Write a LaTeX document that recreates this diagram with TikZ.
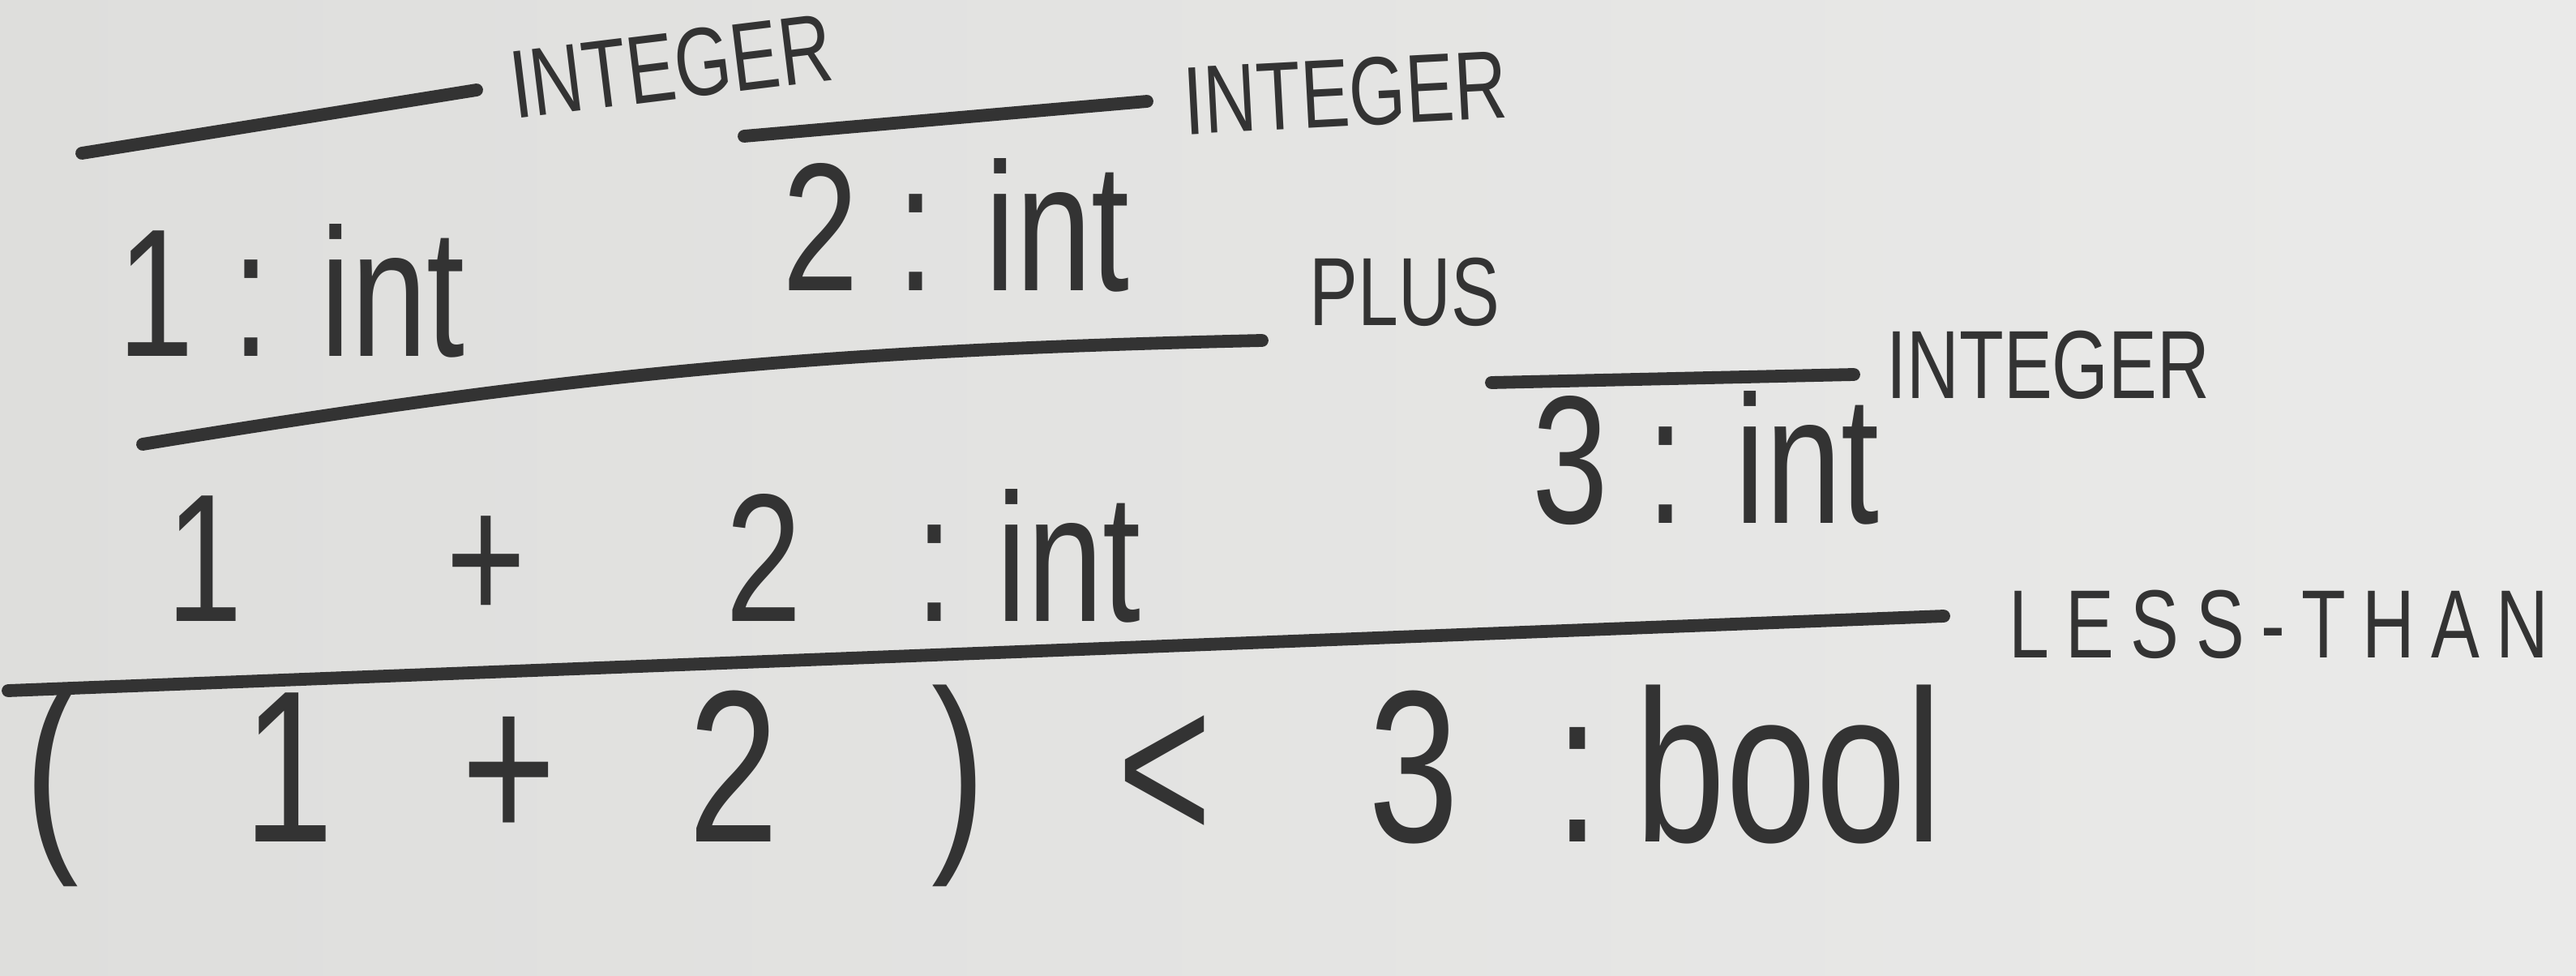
\documentclass[tikz,border=0pt]{standalone}
\usepackage{fontspec}
\newfontfamily\hand[FakeStretch=0.75]{Liberation Sans}
\usepackage{tikz}
\usetikzlibrary{positioning}
\definecolor{boardleft}{HTML}{DEDEDC}
\definecolor{boardright}{HTML}{EAEAE9}
\definecolor{ink}{HTML}{333333}
\tikzset{
  bar/.style={draw=ink, line width=4.5pt, line cap=round},
  judg/.style={text=ink, font=\hand\fontsize{64}{70}\selectfont, inner sep=0pt, anchor=base west},
  bigjudg/.style={judg, font=\hand\fontsize{76}{84}\selectfont},
  rulename/.style={text=ink, font=\hand\fontsize{34}{40}\selectfont, inner sep=0pt, anchor=west},
}

\begin{document}
\begin{tikzpicture}
\shade[left color=boardleft, right color=boardright] (0,0) rectangle (31.78,12.03);
\useasboundingbox (0,0) rectangle (31.78,12.03);
% bar ends
\coordinate (b1l) at (1.01,10.14);
\coordinate (b1r) at (5.88,10.92);
\coordinate (b2l) at (9.18,10.35);
\coordinate (b2r) at (14.15,10.78);
\coordinate (b3l) at (1.76,6.55);
\coordinate (b3r) at (15.57,7.83);
\coordinate (b4l) at (18.40,7.31);
\coordinate (b4r) at (22.87,7.41);
\coordinate (b5l) at (0.10,3.51);
\coordinate (b5r) at (23.98,4.43);
% leaves
\draw[bar] (b1l) -- (b1r);
\node[rulename, rotate=7, right=0.42cm of b1r, yshift=0.05cm] (r1) {INTEGER};
\node[judg] (j1) at (1.45,7.63) {1 : int};
\draw[bar] (b2l) -- (b2r);
\node[rulename, rotate=3, right=0.45cm of b2r] (r2) {INTEGER};
\node[judg] (j2) at (9.65,8.44) {2 : int};
% plus
\draw[bar] (b3l) to[bend left=4] (b3r);
\node[rulename, right=0.58cm of b3r, yshift=0.6cm] (rplus) {PLUS};
\node[judg] (j12) at (2.05,4.37) {1\hspace{2.51cm}+\hspace{2.46cm}2\hspace{1.41cm}:\hspace{0.53cm}int};
\draw[bar] (b4l) -- (b4r);
\node[rulename, right=0.4cm of b4r, yshift=0.12cm] (r3) {INTEGER};
\node[judg] (j3) at (18.9,5.58) {3 : int};
% less-than
\draw[bar] (b5l) -- (b5r);
\node[rulename, font=\hand\fontsize{34}{40}\selectfont\addfontfeature{LetterSpace=17}, right=0.8cm of b5r, yshift=-0.1cm] (rlt) {LESS-THAN};
\node[bigjudg] (jlt) at (0.30,1.65) {(\hspace{2.03cm}1\hspace{1.58cm}+\hspace{1.63cm}2\hspace{1.88cm})\hspace{1.63cm}<\hspace{1.93cm}3\hspace{1.18cm}:\hspace{0.44cm}bool};
\end{tikzpicture}
\end{document}
